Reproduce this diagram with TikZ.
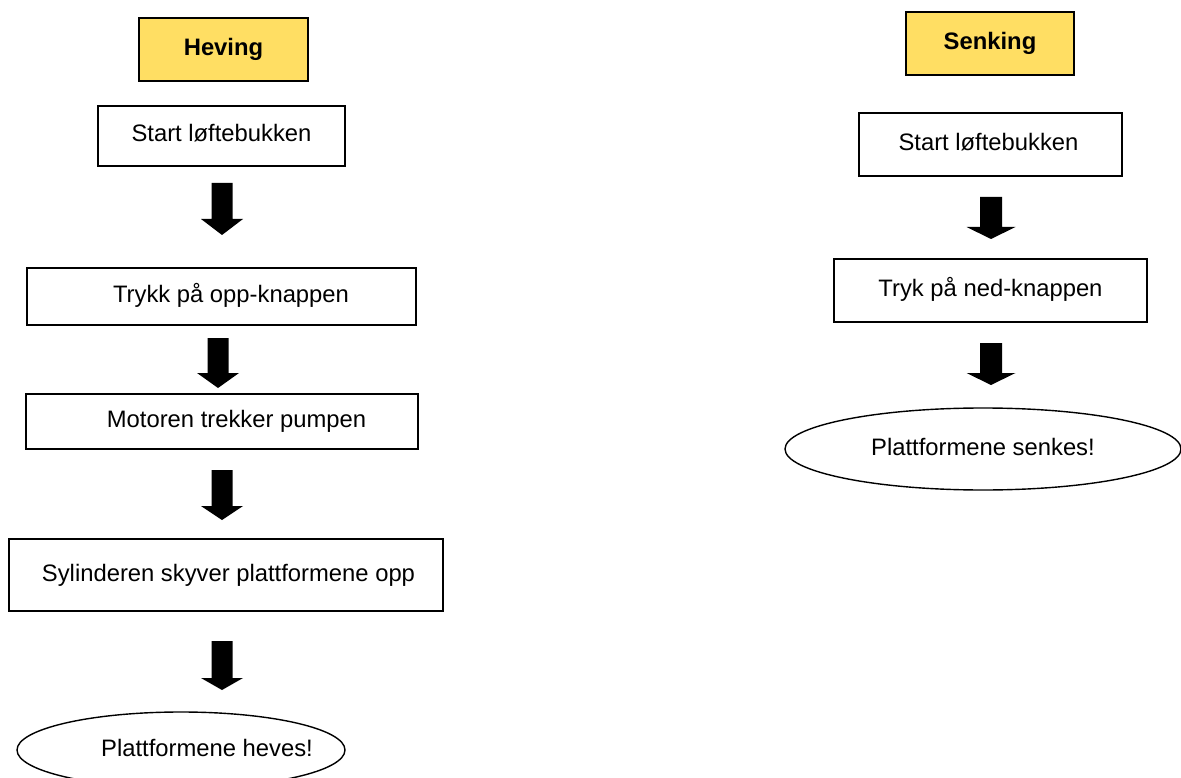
\documentclass[tikz,border=0pt]{standalone}
\usepackage{fontspec}
\setmainfont{Liberation Sans}
\usetikzlibrary{shapes.geometric}
\definecolor{headyellow}{RGB}{255,222,99}
\newcommand\flowarrow[7]{% name, xc, ytop, yhead, ytip, shaft half, head half
  \coordinate (#1) at (#2,#3);
  \fill[black] ({#2-#6},#3) -- ({#2+#6},#3) -- ({#2+#6},#4) -- ({#2+#7},#4)
    -- (#2,#5) -- ({#2-#7},#4) -- ({#2-#6},#4) -- cycle;}
\tikzset{
  every node/.style={font=\fontsize{23.8}{28}\selectfont, inner sep=0pt, text height=17pt, text depth=5pt},
  stepbox/.style={draw=black, line width=1.4pt, fill=white, rectangle},
  headbox/.style={draw=black, line width=1.4pt, fill=headyellow, rectangle, font=\fontsize{23.8}{28}\selectfont\bfseries},
  endoval/.style={draw=black, line width=1.4pt, ellipse},
}
\begin{document}
\begin{tikzpicture}[x=1pt,y=-1pt]
\useasboundingbox (0,0) rectangle (1181,778);
\clip (0,0) rectangle (1181,778);
% ---------- left column: Heving ----------
\node[headbox, minimum width=169pt, minimum height=63pt] (heving) at (223.5,49.5) {Heving};
\node[stepbox, minimum width=247pt, minimum height=60pt] (l1) at (221.5,136) {\makebox[0pt]{Start løftebukken}};
\flowarrow{la1}{222}{183}{219}{235}{10.5}{21}
\node[stepbox, minimum width=389pt, minimum height=57pt] (l2) at (221.5,296.5) {\makebox[0pt]{\hspace*{19pt}Trykk på opp-knappen}};
\flowarrow{la2}{218}{338}{373}{388}{10.5}{21}
\node[stepbox, minimum width=392pt, minimum height=55pt] (l3) at (222,421.5) {\makebox[0pt]{\hspace*{29pt}Motoren trekker pumpen}};
\flowarrow{la3}{222}{470}{506}{520}{10.5}{21}
\node[stepbox, minimum width=434pt, minimum height=72pt] (l4) at (226,575) {\makebox[0pt]{\hspace*{5pt}Sylinderen skyver plattformene opp}};
\flowarrow{la4}{222}{641}{678}{690}{10.5}{21}
\node[endoval, minimum width=328pt, minimum height=76pt] (l5) at (181,750) {\makebox[0pt]{\hspace*{52pt}Plattformene heves!}};
% ---------- right column: Senking ----------
\node[headbox, minimum width=168pt, minimum height=63pt] (senking) at (990,43.5) {Senking};
\node[stepbox, minimum width=263pt, minimum height=63pt] (r1) at (990.5,144.5) {\makebox[0pt]{\hspace*{-4pt}Start løftebukken}};
\flowarrow{ra1}{991}{197}{227}{239}{11}{24.5}
\node[stepbox, minimum width=313pt, minimum height=63pt] (r2) at (990.5,290.5) {\makebox[0pt]{Tryk på ned-knappen}};
\flowarrow{ra2}{991}{343}{373}{385}{11}{24.5}
\node[endoval, minimum width=396pt, minimum height=82pt] (r3) at (983,449) {\makebox[0pt]{Plattformene senkes!}};
\end{tikzpicture}
\end{document}
